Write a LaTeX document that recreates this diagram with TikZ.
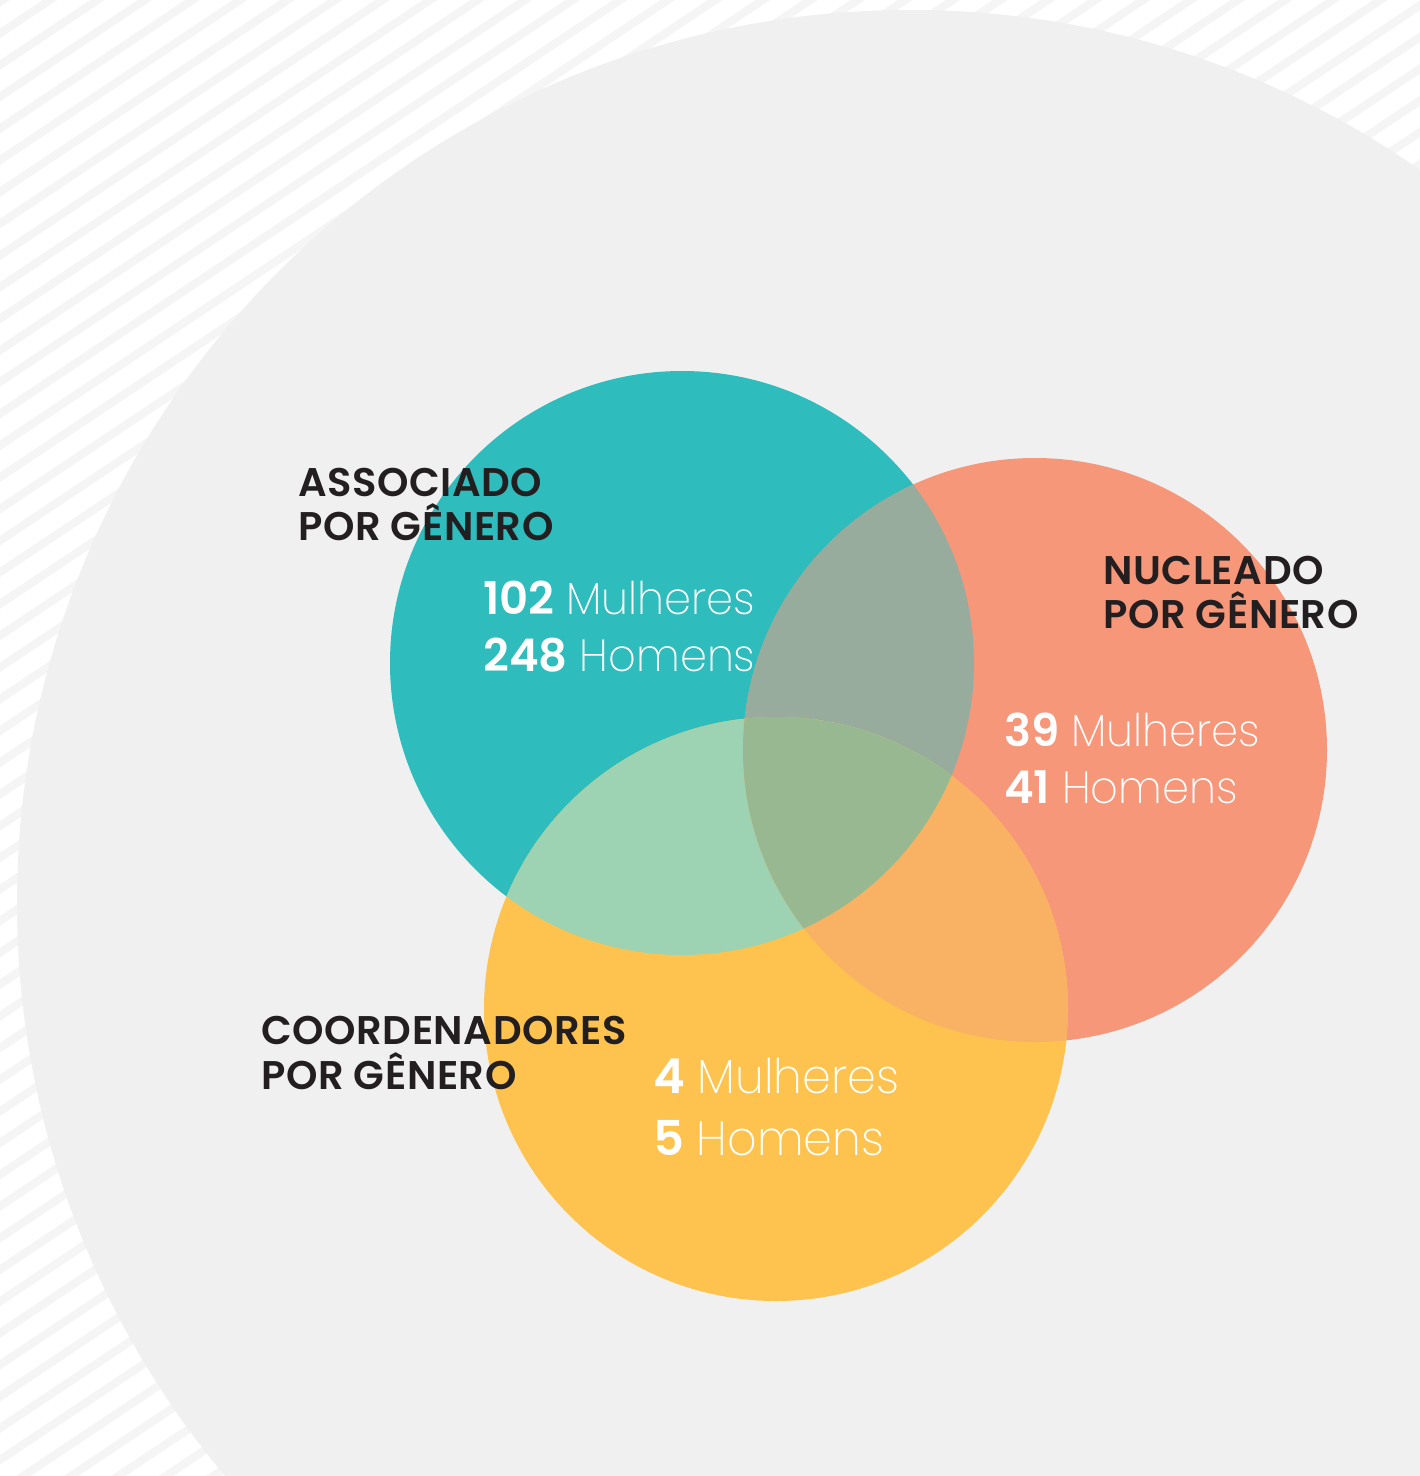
\documentclass[tikz,border=0pt]{standalone}
\usepackage{fontspec}
\setmainfont{Poppins}
\newfontfamily\labelfont{Poppins SemiBold}[LetterSpace=1.5]
\newfontfamily\numfont{Poppins SemiBold}
\newfontfamily\wordfont{Poppins ExtraLight}[FakeStretch=0.96]
\usetikzlibrary{positioning}
\definecolor{vennDark}{HTML}{231F20}
\definecolor{vennTeal}{HTML}{2EBCBD}
\definecolor{vennSalmon}{HTML}{F6977A}
\definecolor{vennYellow}{HTML}{FEC34F}
\definecolor{vennTS}{HTML}{98AC9E}
\definecolor{vennTY}{HTML}{9DD2B3}
\definecolor{vennSY}{HTML}{F9B264}
\definecolor{vennTSY}{HTML}{98B891}
\definecolor{vennBack}{HTML}{F0F0F0}
\definecolor{vennStripe}{HTML}{F5F5F5}

\begin{document}
\begin{tikzpicture}[x=1pt, y=-1pt,
    grupo/.style={anchor=base west, inner sep=0pt, text=vennDark,
                  font=\labelfont\fontsize{40}{44}\selectfont},
    dado/.style={anchor=base west, inner sep=0pt, text=white,
                 font=\fontsize{45}{57}\selectfont},
    dadoG/.style={dado, font=\fontsize{48}{62}\selectfont}]
    \useasboundingbox (0,0) rectangle (1420,1476);
    \clip (0,0) rectangle (1420,1476);
    % striped background
    \fill[white] (0,0) rectangle (1420,1476);
    \foreach \c in {15,46.7,...,2450}
        \draw[vennStripe, line width=8pt] (-20,\c) -- ++(1460,-974);
    \fill[vennBack] (910,903) circle[radius=893];

    % circle centres
    \coordinate (cAssoc) at (682,663);
    \coordinate (cNucl) at (1035,750);
    \coordinate (cCoord) at (776,1009);

    \fill[vennTeal] (cAssoc) circle[radius=292];
    \fill[vennSalmon] (cNucl) circle[radius=292];
    \fill[vennYellow] (cCoord) circle[radius=292];
    % overlaps
    \begin{scope}
        \clip (cAssoc) circle[radius=292];
        \fill[vennTS] (cNucl) circle[radius=292];
        \fill[vennTY] (cCoord) circle[radius=292];
    \end{scope}
    \begin{scope}
        \clip (cNucl) circle[radius=292];
        \fill[vennSY] (cCoord) circle[radius=292];
        \clip (cAssoc) circle[radius=292];
        \fill[vennTSY] (cCoord) circle[radius=292];
    \end{scope}

    % group titles
    \node[grupo] (assocTop) at (298,496) {ASSOCIADO};
    \node[grupo] (assocBot) at (298,540) {POR GÊNERO};
    \node[grupo] (nuclTop) at (1103,584) {NUCLEADO};
    \node[grupo] (nuclBot) at (1103,628) {POR GÊNERO};
    \node[grupo] (coordTop) at (261,1044) {COORDENADORES};
    \node[grupo] (coordBot) at (261,1089) {POR GÊNERO};

    % counts
    \node[dado] (assocM) at (483,614) {{\numfont 102} {\wordfont Mulheres}};
    \node[dado] (assocH) at (483,671) {{\numfont 248} {\wordfont Homens}};
    \node[dado] (nuclM) at (1004,746) {{\numfont 39} {\wordfont Mulheres}};
    \node[dado] (nuclH) at (1004,803) {{\numfont 41} {\wordfont Homens}};
    \node[dadoG] (coordM) at (653,1093) {{\numfont 4} {\wordfont Mulheres}};
    \node[dadoG] (coordH) at (653,1155) {{\numfont 5} {\wordfont Homens}};
\end{tikzpicture}
\end{document}
